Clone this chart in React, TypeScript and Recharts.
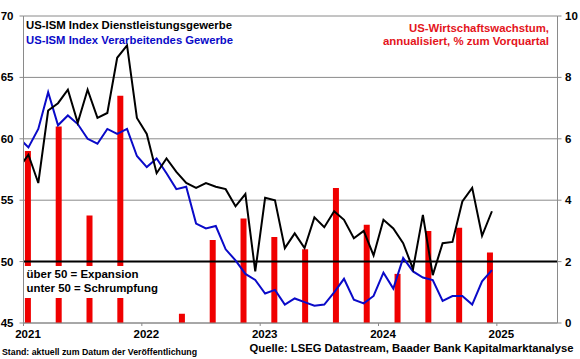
import {
  Bar,
  CartesianGrid,
  ComposedChart,
  Line,
  ReferenceLine,
  XAxis,
  YAxis,
} from "recharts";

// monthly ISM readings, Dec 2020 .. Dec 2024
const FIRST_MONTH = "2020-12";
const SERVICES = [
  57.6,
  58.7, 56.4, 62.3, 62.9, 64.0, 61.3, 64.0, 61.7, 62.1, 66.6, 67.6, 61.7,
  60.4, 57.2, 58.4, 57.3, 56.4, 56.0, 56.4, 56.1, 55.9, 54.5, 55.5, 49.2,
  55.2, 55.0, 51.1, 52.3, 51.1, 53.6, 52.8, 54.1, 53.4, 51.9, 52.5, 50.5,
  53.4, 52.7, 51.5, 49.4, 53.8, 48.9, 51.5, 51.6, 54.9, 56.0, 52.1, 54.1,
];
const MANUFACTURING = [
  60.1,
  59.3, 60.8, 63.8, 61.1, 61.9, 61.2, 60.0, 59.6, 60.8, 60.4, 60.8, 58.6,
  57.7, 58.4, 57.2, 55.9, 56.1, 53.1, 52.7, 52.9, 51.0, 50.1, 49.0, 48.5,
  47.4, 47.7, 46.5, 47.0, 46.7, 46.4, 46.5, 47.5, 48.6, 46.9, 46.6, 47.2,
  49.1, 47.8, 50.3, 49.2, 48.7, 48.5, 46.8, 47.2, 47.2, 46.5, 48.4, 49.3,
];

// GDP growth, annualised q/q
const QUARTERS = [
  "Q1 21", "Q2 21", "Q3 21", "Q4 21",
  "Q1 22", "Q2 22", "Q3 22", "Q4 22",
  "Q1 23", "Q2 23", "Q3 23", "Q4 23",
  "Q1 24", "Q2 24", "Q3 24", "Q4 24",
];
const GDP = [5.6, 6.4, 3.5, 7.4, -1.0, 0.3, 2.7, 3.4, 2.8, 2.4, 4.4, 3.2, 1.6, 3.0, 3.1, 2.3];

const YEARS = [2021, 2022, 2023, 2024, 2025];
const LEFT_TICKS = [45, 50, 55, 60, 65, 70];
const RIGHT_TICKS = [0, 2, 4, 6, 8, 10];

const W = 580;
const H = 359;
const GRID = "#8a8a8a";
const RED = "#f00000";
const BLUE = "#0a0ac8";
const FONT = "'Liberation Sans', Arial, sans-serif";

const YearTick = ({ x, y, payload }: any) => (
  <text
    x={x + 4.5}
    y={y}
    dy="0.71em"
    textAnchor="middle"
    fill="#000"
    fontSize={11.5}
    fontWeight="bold"
  >
    {2021 + Math.round(payload.value / 12)}
  </text>
);

export default function App() {
  // x = months since Jan 2021, values dated mid-month
  const monthly = SERVICES.map((s, i) => ({
    month: FIRST_MONTH,
    t: i - 0.5,
    services: s,
    manufacturing: MANUFACTURING[i],
  }));
  const quarterly = GDP.map((g, i) => ({ q: i, label: QUARTERS[i], gdp: g }));
  const tickStyle = { fill: "#000", fontSize: 11.5, fontWeight: "bold" };

  return (
    <div
      style={{
        position: "absolute",
        left: 0,
        top: 0,
        width: W,
        height: H,
        background: "#fff",
        fontFamily: FONT,
      }}
    >
      <ComposedChart
        width={W}
        height={H}
        data={quarterly}
        margin={{ top: 16, right: 0, bottom: 0, left: 0 }}
      >
        <CartesianGrid
          xAxisId="m"
          yAxisId="l"
          vertical={false}
          stroke={GRID}
        />
        <XAxis
          xAxisId="m"
          type="number"
          dataKey="t"
          domain={[0, 54.15]}
          ticks={YEARS.map((y) => (y - 2021) * 12)}
          allowDataOverflow
          height={36}
          tickSize={3}
          tickMargin={4}
          stroke={GRID}
          tick={<YearTick />}
        />
        <XAxis
          xAxisId="q"
          type="number"
          dataKey="q"
          domain={[-0.156, 17.18]}
          allowDataOverflow
          hide
        />
        <YAxis
          yAxisId="l"
          domain={[45, 70]}
          ticks={LEFT_TICKS}
          allowDataOverflow
          width={23.5}
          tickSize={4}
          tickMargin={6}
          stroke={GRID}
          tick={tickStyle}
        />
        <YAxis
          yAxisId="r"
          orientation="right"
          domain={[0, 10]}
          ticks={RIGHT_TICKS}
          allowDataOverflow
          width={22.5}
          tickSize={4}
          tickMargin={3.5}
          stroke={GRID}
          tick={{ ...tickStyle, textAnchor: "start" }}
        />
        <Bar
          xAxisId="q"
          yAxisId="r"
          dataKey="gdp"
          fill={RED}
          barSize={6}
          isAnimationActive={false}
        />
        <ReferenceLine
          xAxisId="m"
          yAxisId="l"
          y={50}
          stroke="#000"
          strokeWidth={2}
        />
        <Line
          data={monthly}
          xAxisId="m"
          yAxisId="l"
          dataKey="manufacturing"
          type="linear"
          stroke={BLUE}
          strokeWidth={2}
          dot={false}
          isAnimationActive={false}
        />
        <Line
          data={monthly}
          xAxisId="m"
          yAxisId="l"
          dataKey="services"
          type="linear"
          stroke="#000"
          strokeWidth={2}
          dot={false}
          isAnimationActive={false}
        />
      </ComposedChart>

      <svg
        width={W}
        height={H}
        style={{ position: "absolute", left: 0, top: 0, pointerEvents: "none" }}
        fontFamily={FONT}
        fontWeight="bold"
      >
        <text x={26} y={29.3} fontSize={11.5} fill="#000" textLength={206} lengthAdjust="spacingAndGlyphs">
          US-ISM Index Dienstleistungsgewerbe
        </text>
        <text x={26} y={44} fontSize={11.5} fill={BLUE} textLength={207} lengthAdjust="spacingAndGlyphs">
          US-ISM Index Verarbeitendes Gewerbe
        </text>
        <text x={549} y={32.3} fontSize={11.5} fill="#e4141b" textAnchor="end" textLength={140} lengthAdjust="spacingAndGlyphs">
          US-Wirtschaftswachstum,
        </text>
        <text x={549} y={45} fontSize={11.5} fill="#e4141b" textAnchor="end" textLength={166} lengthAdjust="spacingAndGlyphs">
          annualisiert, % zum Vorquartal
        </text>

        <rect x={24} y={266} width={138} height={32} fill="#fff" />
        <text x={26.5} y={278.3} fontSize={11.5} fill="#000" textLength={112} lengthAdjust="spacingAndGlyphs">
          über 50 = Expansion
        </text>
        <text x={26.5} y={291.6} fontSize={11.5} fill="#000" textLength={131.5} lengthAdjust="spacingAndGlyphs">
          unter 50 = Schrumpfung
        </text>

        <text x={2} y={355} fontSize={9.5} fill="#000" textLength={195} lengthAdjust="spacingAndGlyphs">
          Stand: aktuell zum Datum der Veröffentlichung
        </text>
        <text x={249.5} y={351.6} fontSize={11.5} fill="#000" textLength={324} lengthAdjust="spacingAndGlyphs">
          Quelle: LSEG Datastream, Baader Bank Kapitalmarktanalyse
        </text>
      </svg>
    </div>
  );
}
